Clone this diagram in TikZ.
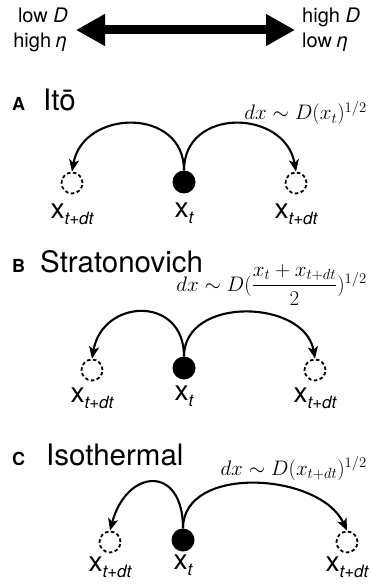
\RequirePackage{fix-cm}
\documentclass[tikz,border=0pt]{standalone}
\usepackage{amsmath}
\usepackage[no-math]{fontspec}
\setmainfont{TeX Gyre Heros}
\usetikzlibrary{arrows.meta,positioning}
\newcommand\xlab[1]{x\raisebox{-6pt}{\fontsize{17}{17}\selectfont\itshape #1}}
\begin{document}
\begin{tikzpicture}[x=1pt,y=-1pt,
  dot/.style={circle,fill,inner sep=0pt,minimum size=23pt},
  ghost/.style={circle,draw,dash pattern=on 3.5pt off 2.5pt,line width=1.8pt,inner sep=0pt,minimum size=21pt},
  hop/.style={-{Stealth[length=12pt,width=10pt,inset=3pt]},line width=2.1pt},
  big/.style={line width=9pt,{Triangle[length=29pt,width=30pt]}-{Triangle[length=29pt,width=30pt]},shorten <=8pt,shorten >=7pt},
  side/.style={inner sep=0pt,font=\fontsize{20}{25}\selectfont},
  lab/.style={inner sep=0pt,font=\fontsize{28}{28}\selectfont},
  head/.style={inner sep=0pt,anchor=base west,font=\fontsize{29.5}{29.5}\selectfont},
  tag/.style={inner sep=0pt,anchor=base west,font=\fontsize{18}{18}\selectfont\bfseries},
  eq/.style={inner sep=0pt,anchor=base east,font=\fontsize{21}{21}\selectfont}]
  \useasboundingbox (0,0) rectangle (370,585);
  \node[side,align=right,anchor=east] (lo) at (68,30) {low \textit{D}\\high \textit{η}};
  \node[side,align=left,anchor=west] (hi) at (302,30) {high \textit{D}\\low \textit{η}};
  \draw[big] (lo) -- (hi);

  \node[tag] (ta) at (12,111) {A}; \node[head] (ha) at (43,111) {Itō};
  \node[eq] (ea) at (367,120) {$dx\sim D(x_t)^{1/2}$};
  \node[dot] (a0) at (184,182) {}; \node[ghost] (a1) at (72,183) {}; \node[ghost] (a2) at (296,183) {};
  \draw[hop] (a0.north) to[out=90,in=80,looseness=1.45] (a1.north);
  \draw[hop] (a0.north) to[out=90,in=100,looseness=1.45] (a2.north);
  \node[lab,below=9pt of a0] (a0x) {\xlab{t}}; \node[lab,below=9pt of a1] (a1x) {\xlab{t+dt}}; \node[lab,below=9pt of a2] (a2x) {\xlab{t+dt}};

  \node[tag] (tb) at (12,272) {B}; \node[head] (hb) at (40,272) {Stratonovich};
  \node[eq] (eb) at (367,291) {$dx\sim D(\dfrac{x_t+x_{t+dt}}{2})^{1/2}$};
  \node[dot] (b0) at (184,368) {}; \node[ghost] (b1) at (92,370) {}; \node[ghost] (b2) at (315,370) {};
  \draw[hop] (b0.north) to[out=90,in=80,looseness=1.7] (b1.north);
  \draw[hop] (b0.north) to[out=90,in=100,looseness=1.18] (b2.north);
  \node[lab,below=6pt of b0] (b0x) {\xlab{t}}; \node[lab,below=6pt of b1] (b1x) {\xlab{t+dt}}; \node[lab,below=6pt of b2] (b2x) {\xlab{t+dt}};

  \node[tag] (tc) at (12,465) {C}; \node[head] (hc) at (46,465) {Isothermal};
  \node[eq] (ec) at (367,475) {$dx\sim D(x_{t+dt})^{1/2}$};
  \node[dot] (c0) at (183,540) {}; \node[ghost] (c1) at (110,542) {}; \node[ghost] (c2) at (347,542) {};
  \draw[hop] (c0.north) to[out=90,in=75,looseness=2.25] (c1.north);
  \draw[hop] (c0.north) to[out=90,in=115,looseness=1.0] (c2.north);
  \node[lab,below=3pt of c0] (c0x) {\xlab{t}}; \node[lab,below=3pt of c1] (c1x) {\xlab{t+dt}}; \node[lab,below=3pt of c2] (c2x) {\xlab{t+dt}};
\end{tikzpicture}
\end{document}
